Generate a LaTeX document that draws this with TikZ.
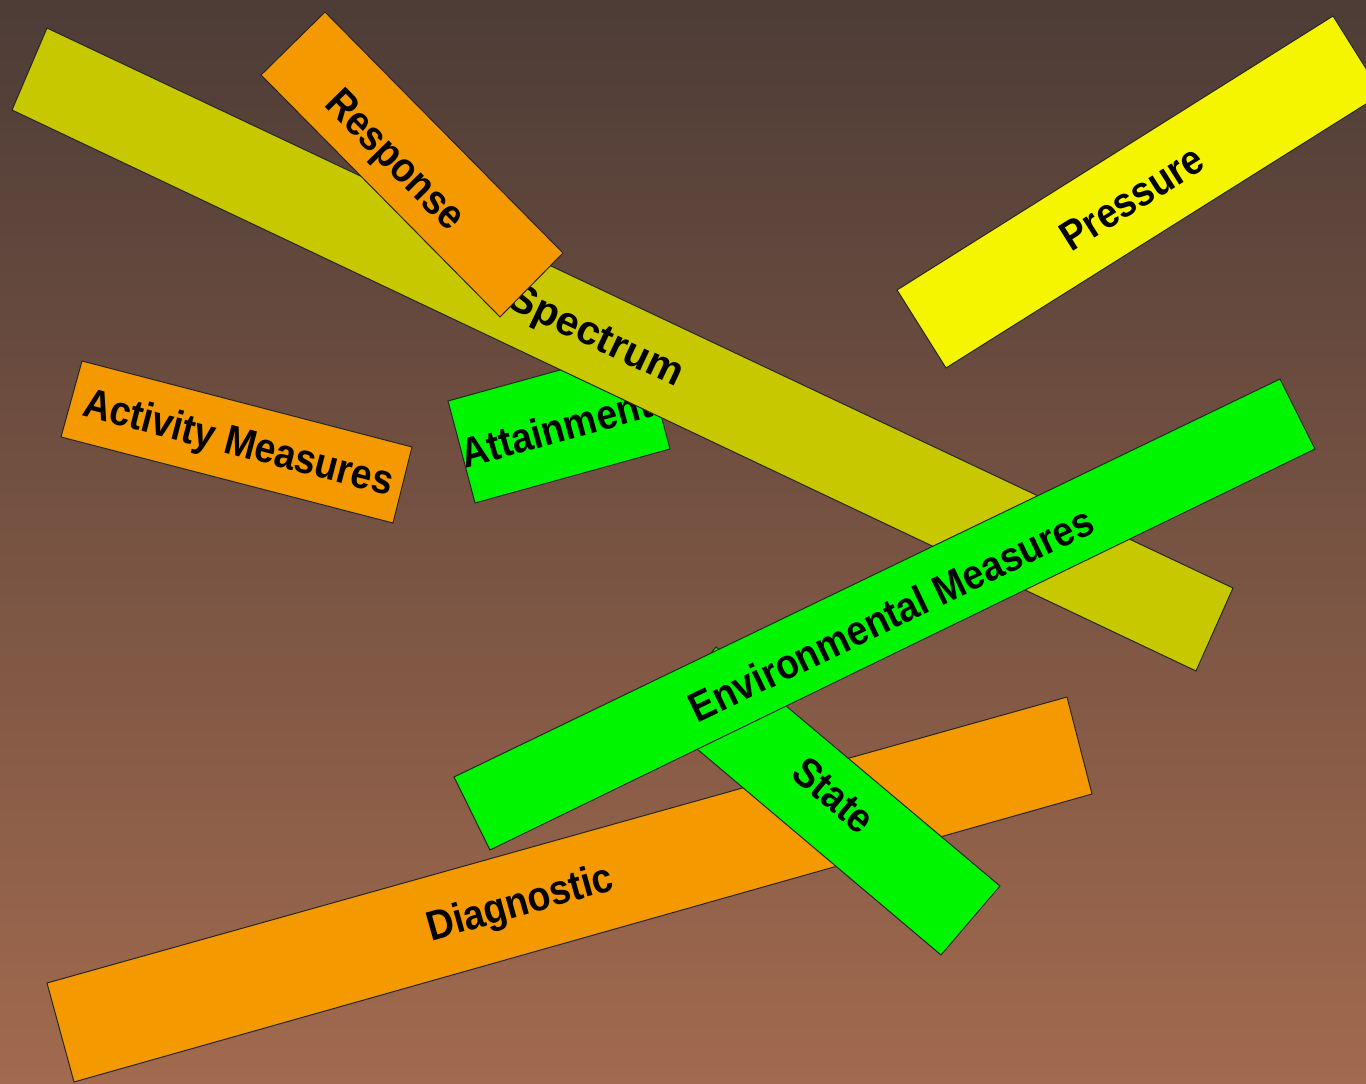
\documentclass[tikz,border=0pt]{standalone}
\usepackage{fontspec}
\setmainfont{Liberation Sans}
\newcommand\barlabel[1]{\scalebox{0.96}[1.07]{#1}}
\begin{document}
\begin{tikzpicture}[x=1pt,y=-1pt,
  bar/.style={draw=black!85, line width=1pt, line join=miter},
  lbl/.style={font=\bfseries\fontsize{39}{39}\selectfont, text=black, inner sep=0pt, anchor=center}]
\definecolor{bgtop}{RGB}{77,60,55}
\definecolor{bgbot}{RGB}{162,106,78}
\definecolor{olivebar}{RGB}{200,200,0}
\definecolor{yellowbar}{RGB}{245,245,0}
\definecolor{orangebar}{RGB}{244,153,0}
\definecolor{greenbar}{RGB}{0,245,0}
\useasboundingbox (0,0) rectangle (1366,1084);
\shade[top color=bgtop, bottom color=bgbot] (0,0) rectangle (1366,1084);
\clip (0,0) rectangle (1366,1084);
% Attainment
\fill[bar, fill=greenbar] (448,401) -- (643,347) -- (670,449) -- (475,503) -- cycle;
\node[lbl, rotate=15.5] (attain) at (556,428) {\barlabel{Attainment}};
% Spectrum
\fill[bar, fill=olivebar] (47,28) -- (1233,588) -- (1196,671) -- (12,110) -- cycle;
\node[lbl, rotate=-25.3] (spectrum) at (595,338) {\scalebox{1.05}{Spectrum}};
% Response
\fill[bar, fill=orangebar] (325,12) -- (563,253) -- (500,317) -- (261,75) -- cycle;
\node[lbl, rotate=-45.4] (response) at (393,162) {\barlabel{Response}};
% Activity Measures
\fill[bar, fill=orangebar] (82,361) -- (412,447) -- (393,523) -- (61,437) -- cycle;
\node[lbl, rotate=-14.6] (activity) at (238,445) {\barlabel{Activity Measures}};
% Pressure
\fill[bar, fill=yellowbar] (897,290) -- (1333,16) -- (1382,94) -- (946,368) -- cycle;
\node[lbl, rotate=32.2] (pressure) at (1132,198) {\barlabel{Pressure}};
% Diagnostic
\fill[bar, fill=orangebar] (47,983) -- (1067,697) -- (1092,794) -- (74,1082) -- cycle;
\node[lbl, rotate=15.7] (diagnostic) at (521,905) {\barlabel{Diagnostic}};
% State
\fill[bar, fill=greenbar] (716,647) -- (1000,886) -- (941,955) -- (658,716) -- cycle;
\node[lbl, rotate=-40.1] (state) at (834,795) {\barlabel{State}};
% Environmental Measures
\fill[bar, fill=greenbar] (454,777) -- (1280,379) -- (1315,449) -- (490,850) -- cycle;
\node[lbl, rotate=25.7] (env) at (891,614) {\barlabel{Environmental Measures}};
\end{tikzpicture}
\end{document}
